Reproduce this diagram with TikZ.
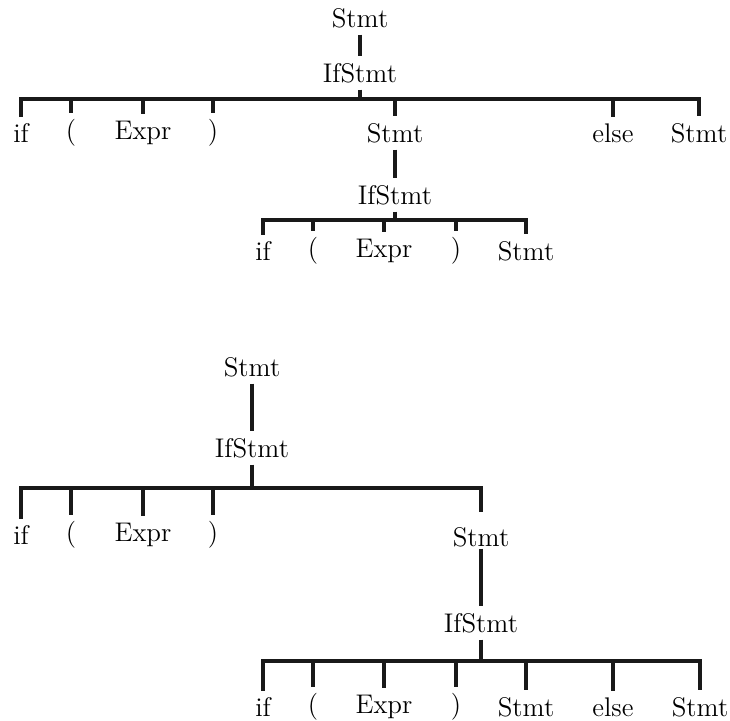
\documentclass[tikz,border=0pt]{standalone}
\usepackage{tikz}
\usetikzlibrary{calc}
\tikzset{
  sym/.style  = {inner sep=2.6pt, font=\fontsize{11}{13}\selectfont},
  edge/.style = {line width=1.3pt, draw=black!90},
}

\begin{document}
\begin{tikzpicture}[x=0.408pt, y=-0.408pt]
  \useasboundingbox (0,0) rectangle (730,721);
  % ---- upper tree: else bound to the outer if ----
  \node[sym] (uRoot) at (360,18) {Stmt};
  \node[sym] (uIf) at (360,73) {IfStmt};
  \coordinate (uBar) at (360,99);
  \node[sym] (uKw)    at (21,133)  {if};
  \node[sym] (uLp)    at (71,133)  {(};
  \node[sym] (uExpr)  at (143,133) {Expr};
  \node[sym] (uRp)    at (213,133) {)};
  \node[sym] (uThen)  at (395,133) {Stmt};
  \node[sym] (uElse)  at (613,133) {else};
  \node[sym] (uElseS) at (699,133) {Stmt};
  \node[sym] (uIf2) at (395,195) {IfStmt};
  \coordinate (uBar2) at (395,220);
  \node[sym] (uKw2)   at (263,251) {if};
  \node[sym] (uLp2)   at (313,251) {(};
  \node[sym] (uExpr2) at (384,251) {Expr};
  \node[sym] (uRp2)   at (456,251) {)};
  \node[sym] (uThen2) at (526,251) {Stmt};
  \draw[edge] (uRoot) -- (uIf);
  \draw[edge] (uIf.south) -- (uIf |- uBar);
  \draw[edge] (uKw.north) -- (uKw |- uBar) -- (uElseS |- uBar) -- (uElseS.north);
  \foreach \c in {uLp,uExpr,uRp,uThen,uElse}
    \draw[edge] (\c |- uBar) -- (\c.north);
  \draw[edge] (uThen) -- (uIf2);
  \draw[edge] (uIf2.south) -- (uIf2 |- uBar2);
  \draw[edge] (uKw2.north) -- (uKw2 |- uBar2) -- (uThen2 |- uBar2) -- (uThen2.north);
  \foreach \c in {uLp2,uExpr2,uRp2}
    \draw[edge] (\c |- uBar2) -- (\c.north);
  % ---- lower tree: else bound to the inner if ----
  \node[sym] (lRoot) at (252,367) {Stmt};
  \node[sym] (lIf) at (252,448) {IfStmt};
  \coordinate (lBar) at (252,488);
  \node[sym] (lKw)   at (21,535)  {if};
  \node[sym] (lLp)   at (71,535)  {(};
  \node[sym] (lExpr) at (143,535) {Expr};
  \node[sym] (lRp)   at (213,535) {)};
  \node[sym] (lThen) at (481,537) {Stmt};
  \node[sym] (lIf2) at (481,623) {IfStmt};
  \coordinate (lBar2) at (481,661);
  \node[sym] (lKw2)    at (263,707) {if};
  \node[sym] (lLp2)    at (313,707) {(};
  \node[sym] (lExpr2)  at (384,707) {Expr};
  \node[sym] (lRp2)    at (456,707) {)};
  \node[sym] (lThen2)  at (526,707) {Stmt};
  \node[sym] (lElse2)  at (613,707) {else};
  \node[sym] (lElseS2) at (700,707) {Stmt};
  \draw[edge] (lRoot) -- (lIf);
  \draw[edge] (lIf.south) -- (lIf |- lBar);
  \draw[edge] (lKw.north) -- (lKw |- lBar) -- (lThen |- lBar)
              -- ([yshift=3.5pt]lThen.north);
  \foreach \c in {lLp,lExpr,lRp}
    \draw[edge] (\c |- lBar) -- (\c.north);
  \draw[edge] ([yshift=2pt]lThen.south) -- (lIf2);
  \draw[edge] (lIf2.south) -- (lIf2 |- lBar2);
  \draw[edge] (lKw2.north) -- (lKw2 |- lBar2) -- (lElseS2 |- lBar2) -- (lElseS2.north);
  \foreach \c in {lLp2,lExpr2,lRp2,lThen2,lElse2}
    \draw[edge] (\c |- lBar2) -- (\c.north);
\end{tikzpicture}
\end{document}
